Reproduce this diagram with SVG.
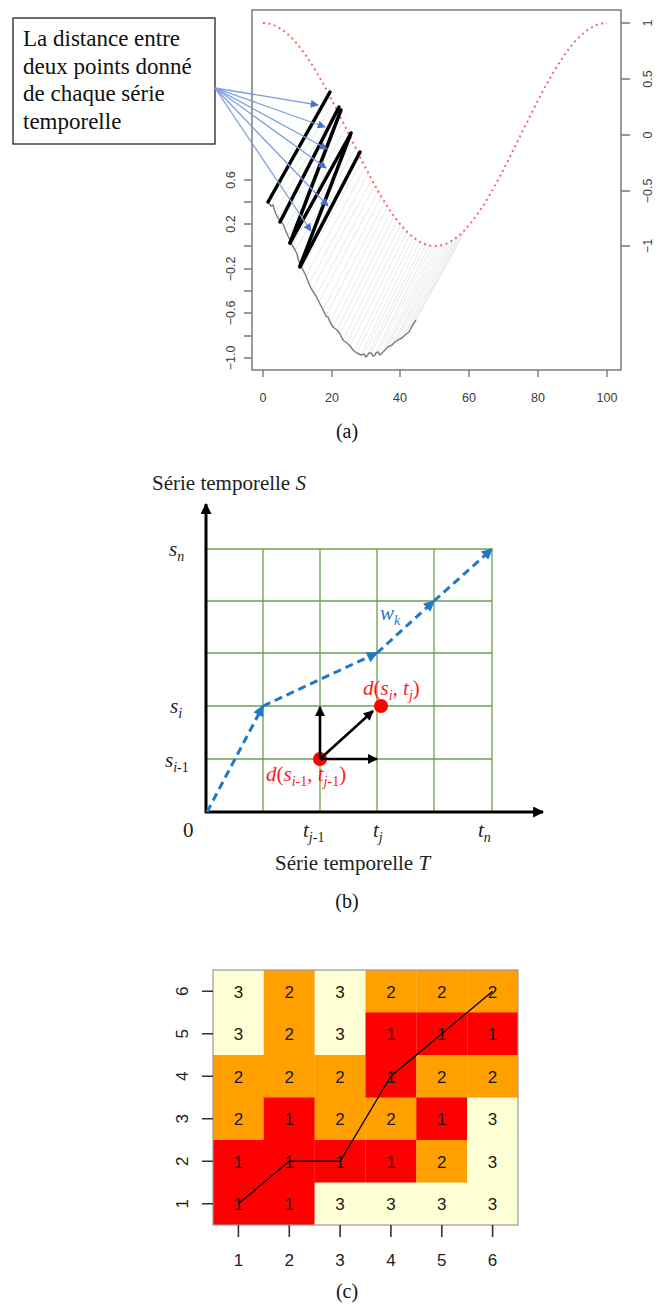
<svg xmlns="http://www.w3.org/2000/svg" width="664" height="1305" viewBox="0 0 664 1305">
<style>
.serif{font-family:"Liberation Serif","Times New Roman",serif;}
.sans{font-family:"Liberation Sans",Arial,sans-serif;}
.tick{stroke:#7a7a7a;stroke-width:1.4;fill:none;}
.albl{font-family:"Liberation Sans",Arial,sans-serif;font-size:12.5px;fill:#3a3a3a;text-anchor:middle;}
.light{stroke:#e9e9e9;stroke-width:1;}
.blk{stroke:#000;stroke-width:3.5;stroke-linecap:round;}
.bluearrow{stroke:#7f9fdc;stroke-width:1.3;fill:none;marker-end:url(#ah-a);}
.grid{stroke:#6f9e52;stroke-width:1.3;}
.wpath{stroke:#1f78c8;stroke-width:3;stroke-dasharray:8 5;fill:none;marker-end:url(#ah-b);}
.karr{stroke:#000;stroke-width:2.6;fill:none;marker-end:url(#ah-k);}
.lbl{font-family:"Liberation Serif","Times New Roman",serif;font-size:21px;fill:#222;}
.cR{fill:#ff0000;}
.cO{fill:#ff9f00;}
.cC{fill:#ffffd6;}
.num{font-family:"Liberation Sans",Arial,sans-serif;font-size:17px;fill:#1a1a1a;text-anchor:middle;}
.hlbl{font-family:"Liberation Sans",Arial,sans-serif;font-size:17px;fill:#222;text-anchor:middle;}
.htick{stroke:#333;stroke-width:1.6;}
</style>
<defs>
<marker id="ah-a" viewBox="0 0 10 10" refX="9" refY="5" markerWidth="9" markerHeight="8" markerUnits="userSpaceOnUse" orient="auto"><path d="M0,0 L10,5 L0,10 z" fill="#4472c4"/></marker>
<marker id="ah-b" viewBox="0 0 10 10" refX="9" refY="5" markerWidth="13" markerHeight="11" markerUnits="userSpaceOnUse" orient="auto"><path d="M0,0 L10,5 L0,10 z" fill="#1f78c8"/></marker>
<marker id="ah-k" viewBox="0 0 10 10" refX="9" refY="5" markerWidth="12" markerHeight="10" markerUnits="userSpaceOnUse" orient="auto"><path d="M0,0 L10,5 L0,10 z" fill="#000"/></marker>
<marker id="ah-ax" viewBox="0 0 10 10" refX="9" refY="5" markerWidth="13" markerHeight="11" markerUnits="userSpaceOnUse" orient="auto"><path d="M0,0 L10,5 L0,10 z" fill="#000"/></marker>
</defs>
<rect width="664" height="1305" fill="#fff"/>

<!-- ===== Panel (a) ===== -->
<g id="panel-a">
  <g id="a-light-lines" class="light">
    <line x1="268" y1="202" x2="330.1" y2="96.7"/>
    <line x1="271" y1="206" x2="333.3" y2="102.9"/>
    <line x1="275" y1="212" x2="336.5" y2="109.2"/>
    <line x1="278" y1="218" x2="339.7" y2="115.6"/>
    <line x1="281" y1="222" x2="342.9" y2="122.1"/>
    <line x1="285" y1="229" x2="346.1" y2="128.5"/>
    <line x1="288" y1="236" x2="349.3" y2="135.1"/>
    <line x1="292" y1="245" x2="352.5" y2="141.6"/>
    <line x1="295" y1="250" x2="355.7" y2="148.1"/>
    <line x1="299" y1="262" x2="358.9" y2="154.5"/>
    <line x1="302" y1="268" x2="362.1" y2="160.9"/>
    <line x1="306" y1="276" x2="365.3" y2="167.1"/>
    <line x1="309" y1="284" x2="368.5" y2="173.3"/>
    <line x1="312" y1="290" x2="371.7" y2="179.4"/>
    <line x1="316" y1="296" x2="374.9" y2="185.3"/>
    <line x1="319" y1="302" x2="378.1" y2="191.0"/>
    <line x1="323" y1="310" x2="381.3" y2="196.5"/>
    <line x1="326" y1="316" x2="384.5" y2="201.8"/>
    <line x1="330" y1="322" x2="387.7" y2="206.9"/>
    <line x1="333" y1="327" x2="390.9" y2="211.8"/>
    <line x1="337" y1="330" x2="394.1" y2="216.4"/>
    <line x1="340" y1="334" x2="397.3" y2="220.6"/>
    <line x1="343" y1="340" x2="400.5" y2="224.7"/>
    <line x1="347" y1="343" x2="403.7" y2="228.3"/>
    <line x1="350" y1="346" x2="406.9" y2="231.6"/>
    <line x1="354" y1="351" x2="410.1" y2="234.6"/>
    <line x1="357" y1="353" x2="413.3" y2="237.2"/>
    <line x1="361" y1="355" x2="416.5" y2="239.6"/>
    <line x1="364" y1="354" x2="419.7" y2="241.6"/>
    <line x1="367" y1="356" x2="422.9" y2="243.3"/>
    <line x1="371" y1="353" x2="426.1" y2="244.5"/>
    <line x1="374" y1="356" x2="429.3" y2="245.4"/>
    <line x1="378" y1="352" x2="432.5" y2="245.9"/>
    <line x1="381" y1="354" x2="435.7" y2="246.0"/>
    <line x1="385" y1="350" x2="438.9" y2="245.7"/>
    <line x1="388" y1="347" x2="442.1" y2="245.1"/>
    <line x1="392" y1="345" x2="445.3" y2="244.0"/>
    <line x1="395" y1="342" x2="448.5" y2="242.7"/>
    <line x1="398" y1="340" x2="451.7" y2="240.9"/>
    <line x1="402" y1="338" x2="454.9" y2="238.8"/>
    <line x1="405" y1="335" x2="458.0" y2="236.3"/>
    <line x1="409" y1="332" x2="461.2" y2="233.4"/>
    <line x1="412" y1="326" x2="464.4" y2="230.2"/>
    <line x1="416" y1="320" x2="467.7" y2="226.7"/>
  </g>
  <rect id="a-box" x="252" y="10" width="369" height="360" fill="none" stroke="#7a7a7a" stroke-width="1.5"/>
  <g id="a-left-axis">
    <path class="tick" d="M244,180H252M244,202H252M244,224H252M244,246H252M244,269H252M244,291H252M244,313H252M244,336H252M244,358H252"/>
    <text class="albl" transform="translate(235,180) rotate(-90)">0.6</text>
    <text class="albl" transform="translate(235,224) rotate(-90)">0.2</text>
    <text class="albl" transform="translate(235,269) rotate(-90)">−0.2</text>
    <text class="albl" transform="translate(235,313) rotate(-90)">−0.6</text>
    <text class="albl" transform="translate(235,358) rotate(-90)">−1.0</text>
  </g>
  <g id="a-right-axis">
    <path class="tick" d="M621,23H630M621,79H630M621,135H630M621,191H630M621,246H630"/>
    <text class="albl" transform="translate(652,23) rotate(-90)">1</text>
    <text class="albl" transform="translate(652,79) rotate(-90)">0.5</text>
    <text class="albl" transform="translate(652,135) rotate(-90)">0</text>
    <text class="albl" transform="translate(652,191) rotate(-90)">−0.5</text>
    <text class="albl" transform="translate(652,246) rotate(-90)">−1</text>
  </g>
  <g id="a-bottom-axis">
    <path class="tick" d="M263,370V377M332,370V377M400,370V377M469,370V377M538,370V377M607,370V377"/>
    <text class="albl" x="263" y="402">0</text>
    <text class="albl" x="332" y="402">20</text>
    <text class="albl" x="400" y="402">40</text>
    <text class="albl" x="469" y="402">60</text>
    <text class="albl" x="538" y="402">80</text>
    <text class="albl" x="607" y="402">100</text>
  </g>
  <path id="a-red-series" d="M263,23 C294.1,23 320.95,77.4 349,134.5 C377.05,191.6 403.9,246 435,246 C466.1,246 492.95,191.6 521,134.5 C549.05,77.4 575.9,23 607,23" fill="none" stroke="#f06a6a" stroke-width="2" stroke-dasharray="2 3.5"/>
  <polyline id="a-gray-series" fill="none" stroke="#808080" stroke-width="1.5" stroke-linejoin="round" points="268,202 271,206 273,205 275,212 278,218 281,222 283,224 285,229 288,236 290,240 292,245 295,250 297,254 299,262 302,268 306,276 309,284 312,290 316,296 319,302 323,310 326,316 328,317 330,322 333,327 337,330 340,334 343,340 347,343 350,346 354,351 357,353 361,355 364,354 366,357 367,356 369,353 371,353 373,356 374,356 376,353 378,352 380,355 381,354 385,350 388,347 392,345 395,342 398,340 402,338 405,335 409,332 412,326 416,320"/>
  <g id="a-black-lines" class="blk">
    <line x1="268" y1="202" x2="330" y2="92"/>
    <line x1="280" y1="222" x2="339" y2="107"/>
    <line x1="290" y1="243" x2="341" y2="110"/>
    <line x1="290" y1="243" x2="350" y2="135"/>
    <line x1="300" y1="266" x2="351" y2="133"/>
    <line x1="300" y1="267" x2="360" y2="152"/>
  </g>
  <g id="a-callout">
    <rect x="13" y="18" width="202" height="126" fill="#fff" stroke="#222" stroke-width="1.3"/>
    <text font-family="'Liberation Serif','Times New Roman',serif" font-size="23" fill="#111">
      <tspan x="23" y="46">La distance entre</tspan>
      <tspan x="23" y="74">deux points donné</tspan>
      <tspan x="23" y="101">de chaque série</tspan>
      <tspan x="23" y="129">temporelle</tspan>
    </text>
  </g>
  <text class="serif" font-size="20" fill="#111" x="347" y="438" text-anchor="middle">(a)</text>
</g>
<g id="a-connectors">
  <path class="bluearrow" d="M215,88 L318,105"/>
  <path class="bluearrow" d="M215,88 L325,127"/>
  <path class="bluearrow" d="M215,88 L327,149"/>
  <path class="bluearrow" d="M215,88 L326,168"/>
  <path class="bluearrow" d="M215,88 L328,206"/>
  <path class="bluearrow" d="M215,88 L311,231"/>
</g>

<!-- ===== Panel (b) ===== -->
<g id="panel-b">
  <g id="b-grid" class="grid">
    <line x1="263" y1="549" x2="263" y2="812"/>
    <line x1="320" y1="549" x2="320" y2="812"/>
    <line x1="377" y1="549" x2="377" y2="812"/>
    <line x1="434" y1="549" x2="434" y2="812"/>
    <line x1="492" y1="549" x2="492" y2="812"/>
    <line x1="206" y1="549" x2="492" y2="549"/>
    <line x1="206" y1="601" x2="492" y2="601"/>
    <line x1="206" y1="653" x2="492" y2="653"/>
    <line x1="206" y1="706" x2="492" y2="706"/>
    <line x1="206" y1="759" x2="492" y2="759"/>
  </g>
  <g id="b-axes">
    <line x1="206" y1="813" x2="206" y2="504" stroke="#000" stroke-width="3" marker-end="url(#ah-ax)"/>
    <line x1="205" y1="812" x2="543" y2="812" stroke="#000" stroke-width="3" marker-end="url(#ah-ax)"/>
  </g>
  <text class="lbl" x="152" y="490">Série temporelle <tspan font-style="italic">S</tspan></text>
  <text class="lbl" x="275" y="870">Série temporelle <tspan font-style="italic">T</tspan></text>
  <text class="lbl" x="169" y="556"><tspan font-style="italic">s</tspan><tspan font-style="italic" font-size="14" dy="5">n</tspan></text>
  <text class="lbl" x="170" y="713"><tspan font-style="italic">s</tspan><tspan font-style="italic" font-size="14" dy="5">i</tspan></text>
  <text class="lbl" x="165" y="767"><tspan font-style="italic">s</tspan><tspan font-style="italic" font-size="14" dy="5">i</tspan><tspan font-size="14">-1</tspan></text>
  <text class="lbl" x="183" y="837">0</text>
  <text class="lbl" x="303" y="837"><tspan font-style="italic">t</tspan><tspan font-style="italic" font-size="14" dy="5">j</tspan><tspan font-size="14">-1</tspan></text>
  <text class="lbl" x="373" y="837"><tspan font-style="italic">t</tspan><tspan font-style="italic" font-size="14" dy="5">j</tspan></text>
  <text class="lbl" x="478" y="837"><tspan font-style="italic">t</tspan><tspan font-style="italic" font-size="14" dy="5">n</tspan></text>
  <text class="lbl" x="380" y="620" style="fill:#1f78c8"><tspan font-style="italic">w</tspan><tspan font-style="italic" font-size="14" dy="5">k</tspan></text>
  <g id="b-points">
    <circle cx="320" cy="759" r="7" fill="#ff0000"/>
    <circle cx="381" cy="706" r="7" fill="#ff0000"/>
  </g>
  <text class="lbl" x="363" y="695" style="fill:#ff1a1a"><tspan font-style="italic">d</tspan>(<tspan font-style="italic">s</tspan><tspan font-style="italic" font-size="14" dy="5">i</tspan><tspan dy="-5">, </tspan><tspan font-style="italic">t</tspan><tspan font-style="italic" font-size="14" dy="5">j</tspan><tspan dy="-5">)</tspan></text>
  <text class="lbl" x="266" y="781" style="fill:#ff1a1a"><tspan font-style="italic">d</tspan>(<tspan font-style="italic">s</tspan><tspan font-style="italic" font-size="14" dy="5">i</tspan><tspan font-size="14">-1</tspan><tspan dy="-5">, </tspan><tspan font-style="italic">t</tspan><tspan font-style="italic" font-size="14" dy="5">j</tspan><tspan font-size="14">-1</tspan><tspan dy="-5">)</tspan></text>
  <text class="serif" font-size="20" fill="#111" x="347" y="908" text-anchor="middle">(b)</text>
</g>
<g id="b-connectors">
  <path class="wpath" d="M207,812 L263,706"/>
  <path class="wpath" d="M263,706 L377,653"/>
  <path class="wpath" d="M377,653 L434,601"/>
  <path class="wpath" d="M434,601 L492,549"/>
  <path class="karr" d="M320,759 L320,707"/>
  <path class="karr" d="M320,759 L377,759"/>
  <path class="karr" d="M320,759 L373,711"/>
</g>

<!-- ===== Panel (c) ===== -->
<g id="panel-c">
  <g id="c-cells">
    <rect class="cC" x="213" y="970" width="51" height="43"/>
    <rect class="cO" x="263.8" y="970" width="51" height="43"/>
    <rect class="cC" x="314.7" y="970" width="51" height="43"/>
    <rect class="cO" x="365.5" y="970" width="51" height="43"/>
    <rect class="cO" x="416.3" y="970" width="51" height="43"/>
    <rect class="cO" x="467.2" y="970" width="50.8" height="43"/>

    <rect class="cC" x="213" y="1012.5" width="51" height="43"/>
    <rect class="cO" x="263.8" y="1012.5" width="51" height="43"/>
    <rect class="cC" x="314.7" y="1012.5" width="51" height="43"/>
    <rect class="cR" x="365.5" y="1012.5" width="51" height="43"/>
    <rect class="cR" x="416.3" y="1012.5" width="51" height="43"/>
    <rect class="cR" x="467.2" y="1012.5" width="50.8" height="43"/>

    <rect class="cO" x="213" y="1055" width="51" height="43"/>
    <rect class="cO" x="263.8" y="1055" width="51" height="43"/>
    <rect class="cO" x="314.7" y="1055" width="51" height="43"/>
    <rect class="cR" x="365.5" y="1055" width="51" height="43"/>
    <rect class="cO" x="416.3" y="1055" width="51" height="43"/>
    <rect class="cO" x="467.2" y="1055" width="50.8" height="43"/>

    <rect class="cO" x="213" y="1097.5" width="51" height="43"/>
    <rect class="cR" x="263.8" y="1097.5" width="51" height="43"/>
    <rect class="cO" x="314.7" y="1097.5" width="51" height="43"/>
    <rect class="cO" x="365.5" y="1097.5" width="51" height="43"/>
    <rect class="cR" x="416.3" y="1097.5" width="51" height="43"/>
    <rect class="cC" x="467.2" y="1097.5" width="50.8" height="43"/>

    <rect class="cR" x="213" y="1140" width="51" height="43"/>
    <rect class="cR" x="263.8" y="1140" width="51" height="43"/>
    <rect class="cR" x="314.7" y="1140" width="51" height="43"/>
    <rect class="cR" x="365.5" y="1140" width="51" height="43"/>
    <rect class="cO" x="416.3" y="1140" width="51" height="43"/>
    <rect class="cC" x="467.2" y="1140" width="50.8" height="43"/>

    <rect class="cR" x="213" y="1182.5" width="51" height="42.5"/>
    <rect class="cR" x="263.8" y="1182.5" width="51" height="42.5"/>
    <rect class="cC" x="314.7" y="1182.5" width="51" height="42.5"/>
    <rect class="cC" x="365.5" y="1182.5" width="51" height="42.5"/>
    <rect class="cC" x="416.3" y="1182.5" width="51" height="42.5"/>
    <rect class="cC" x="467.2" y="1182.5" width="50.8" height="42.5"/>
  </g>
  <rect x="213" y="970" width="305" height="255" fill="none" stroke="#999" stroke-width="1.2"/>
  <g id="c-numbers" class="num">
    <text x="238.4" y="997.5">3</text><text x="289.3" y="997.5">2</text><text x="340.1" y="997.5">3</text><text x="390.9" y="997.5">2</text><text x="441.8" y="997.5">2</text><text x="492.6" y="997.5">2</text>
    <text x="238.4" y="1040">3</text><text x="289.3" y="1040">2</text><text x="340.1" y="1040">3</text><text x="390.9" y="1040">1</text><text x="441.8" y="1040">1</text><text x="492.6" y="1040">1</text>
    <text x="238.4" y="1082.5">2</text><text x="289.3" y="1082.5">2</text><text x="340.1" y="1082.5">2</text><text x="390.9" y="1082.5">1</text><text x="441.8" y="1082.5">2</text><text x="492.6" y="1082.5">2</text>
    <text x="238.4" y="1125">2</text><text x="289.3" y="1125">1</text><text x="340.1" y="1125">2</text><text x="390.9" y="1125">2</text><text x="441.8" y="1125">1</text><text x="492.6" y="1125">3</text>
    <text x="238.4" y="1167.5">1</text><text x="289.3" y="1167.5">1</text><text x="340.1" y="1167.5">1</text><text x="390.9" y="1167.5">1</text><text x="441.8" y="1167.5">2</text><text x="492.6" y="1167.5">3</text>
    <text x="238.4" y="1210">1</text><text x="289.3" y="1210">1</text><text x="340.1" y="1210">3</text><text x="390.9" y="1210">3</text><text x="441.8" y="1210">3</text><text x="492.6" y="1210">3</text>
  </g>
  <g id="c-axes">
    <path class="htick" d="M202,991.25H213M202,1033.75H213M202,1076.25H213M202,1118.75H213M202,1161.25H213M202,1203.75H213"/>
    <path class="htick" d="M238.4,1225V1237M289.3,1225V1237M340.1,1225V1237M390.9,1225V1237M441.8,1225V1237M492.6,1225V1237"/>
    <text class="hlbl" transform="translate(188,991.25) rotate(-90)">6</text>
    <text class="hlbl" transform="translate(188,1033.75) rotate(-90)">5</text>
    <text class="hlbl" transform="translate(188,1076.25) rotate(-90)">4</text>
    <text class="hlbl" transform="translate(188,1118.75) rotate(-90)">3</text>
    <text class="hlbl" transform="translate(188,1161.25) rotate(-90)">2</text>
    <text class="hlbl" transform="translate(188,1203.75) rotate(-90)">1</text>
    <text class="hlbl" x="238.4" y="1266">1</text>
    <text class="hlbl" x="289.3" y="1266">2</text>
    <text class="hlbl" x="340.1" y="1266">3</text>
    <text class="hlbl" x="390.9" y="1266">4</text>
    <text class="hlbl" x="441.8" y="1266">5</text>
    <text class="hlbl" x="492.6" y="1266">6</text>
  </g>
  <text class="serif" font-size="20" fill="#111" x="347" y="1298" text-anchor="middle">(c)</text>
</g>
<g id="c-connectors">
  <polyline points="238.4,1203.75 289.3,1161.25 340.1,1161.25 390.9,1076.25 441.8,1033.75 492.6,991.25" fill="none" stroke="#000" stroke-width="1.3"/>
</g>
</svg>
